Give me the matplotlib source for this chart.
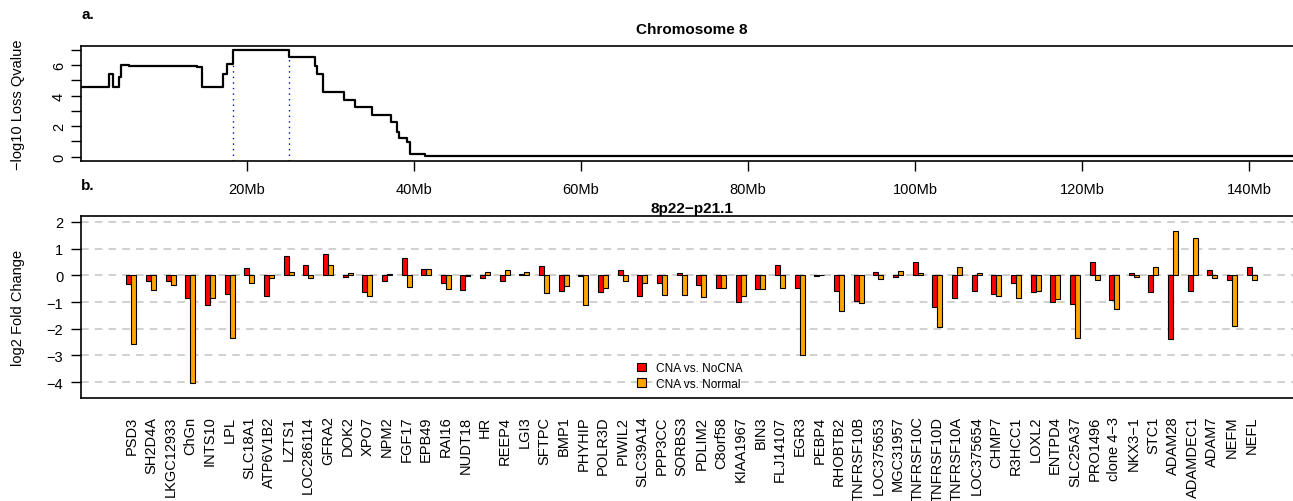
import numpy as np
import matplotlib
matplotlib.use('Agg')
import matplotlib.pyplot as plt
from matplotlib.patches import Patch

plt.rcParams['font.family'] = ['Liberation Sans', 'DejaVu Sans']

# panel a: step curve of -log10 loss q-value along chromosome 8 (Mb)
seg_start = [0.2, 3.56, 3.96, 4.75, 4.99, 5.95, 13.2, 14.0, 14.69, 17.2, 17.68,
             18.4, 25.02, 28.21, 28.45, 29.09, 31.69, 32.96, 35.0, 37.23, 38.03,
             38.27, 39.15, 39.55, 41.34, 146.3]
seg_value = [4.58, 5.41, 4.58, 5.2, 6.02, 5.97, 5.93, 5.88, 4.58, 5.45, 6.11,
             6.97, 6.57, 5.96, 5.41, 4.25, 3.71, 3.27, 2.73, 2.25, 1.6,
             1.2, 0.94, 0.18, 0.03, 0.03]
region_x = [18.4, 25.02]
region_top = [6.11, 6.57]

# panel b: log2 fold change per gene
genes = ['PSD3', 'SH2D4A', 'LKGC12933', 'ChGn', 'INTS10', 'LPL', 'SLC18A1',
         'ATP6V1B2', 'LZTS1', 'LOC286114', 'GFRA2', 'DOK2', 'XPO7', 'NPM2',
         'FGF17', 'EPB49', 'RAI16', 'NUDT18', 'HR', 'REEP4', 'LGI3', 'SFTPC',
         'BMP1', 'PHYHIP', 'POLR3D', 'PIWIL2', 'SLC39A14', 'PPP3CC', 'SORBS3',
         'PDLIM2', 'C8orf58', 'KIAA1967', 'BIN3', 'FLJ14107', 'EGR3', 'PEBP4',
         'RHOBTB2', 'TNFRSF10B', 'LOC375653', 'MGC31957', 'TNFRSF10C',
         'TNFRSF10D', 'TNFRSF10A', 'LOC375654', 'CHMP7', 'R3HCC1', 'LOXL2',
         'ENTPD4', 'SLC25A37', 'PRO1496', 'clone 4\u22123', 'NKX3\u22121', 'STC1',
         'ADAM28', 'ADAMDEC1', 'ADAM7', 'NEFM', 'NEFL']
fc_nocna = [-0.31, -0.21, -0.2, -0.85, -1.1, -0.71, 0.28, -0.76, 0.74, 0.39,
            0.8, -0.06, -0.61, -0.22, 0.64, 0.22, -0.29, -0.55, -0.1, -0.22,
            0.06, 0.36, -0.57, -0.03, -0.61, 0.19, -0.79, -0.3, 0.09, -0.36,
            -0.49, -1.0, -0.5, 0.38, -0.49, -0.03, -0.6, -0.98, 0.14, -0.08,
            0.51, -1.19, -0.86, -0.59, -0.69, -0.3, -0.61, -0.99, -1.09, 0.51,
            -0.94, 0.1, -0.61, -2.37, -0.6, 0.2, -0.19, 0.3]
fc_normal = [-2.59, -0.55, -0.36, -4.03, -0.84, -2.35, -0.29, -0.1, 0.12, -0.09,
             0.4, 0.1, -0.76, 0.06, -0.42, 0.25, -0.5, -0.03, 0.12, 0.21,
             0.12, -0.65, -0.41, -1.12, -0.47, -0.22, -0.27, -0.75, -0.75, -0.8,
             -0.49, -0.78, -0.5, -0.49, -2.98, 0.01, -1.35, -1.05, -0.14, 0.16,
             0.1, -1.95, 0.3, 0.1, -0.79, -0.86, -0.59, -0.9, -2.35, -0.17,
             -1.27, -0.05, 0.32, 1.65, 1.4, -0.09, -1.91, -0.19]

W, H = 1293, 502
fig = plt.figure(figsize=(W / 100, H / 100), dpi=100)


def fx(px):
    return px / W


def fy(py):
    return 1 - py / H


left = fx(81.3)
width = fx(1301.7) - left
ax1 = fig.add_axes([left, fy(162), width, fy(46.7) - fy(162)])
ax2 = fig.add_axes([left, fy(398.5), width, fy(217.3) - fy(398.5)])

fs = 10.5

# ---- panel a
ax1.step(seg_start, seg_value, where='post', color='black', lw=1.6)
for xv, yt in zip(region_x, region_top):
    ax1.plot([xv, xv], [-0.28, yt], color='blue', lw=1, ls=(0, (1, 3)))
ax1.set_xlim(0.2, 146.3)
ax1.set_ylim(-0.28, 7.28)
ax1.set_xticks(range(20, 141, 20))
ax1.set_xticklabels([f'{v}Mb' for v in range(20, 141, 20)], fontsize=fs)
ax1.set_yticks(range(8))
ax1.set_yticklabels(['0', '', '2', '', '4', '', '6', ''], fontsize=fs,
                    rotation=90, va='center')
ax1.tick_params(axis='x', length=7, width=1, pad=8)
ax1.tick_params(axis='y', length=7, width=1, pad=4)
ax1.set_title('Chromosome 8', fontsize=11, fontweight='bold', pad=9)
for sp in ax1.spines.values():
    sp.set_linewidth(1.2)

# ---- panel b
x = np.arange(len(genes))
bw = 0.254
for yv in range(-4, 3):
    ax2.axhline(yv, color='#c4c4c4', lw=1.1, ls=(0, (5, 4)), zorder=0)
ax2.bar(x - bw / 2, fc_nocna, width=bw, color='#ff0000', edgecolor='black',
        linewidth=0.8, zorder=2)
ax2.bar(x + bw / 2, fc_normal, width=bw, color='#ffa500', edgecolor='black',
        linewidth=0.8, zorder=2)
ax2.set_xlim(-2.544, 59.54)
ax2.set_ylim(-4.575, 2.21)
ax2.set_xticks(x)
ax2.set_xticklabels(genes, rotation=90, fontsize=fs, va='top', ha='center')
ax2.tick_params(axis='x', length=0, pad=13)
ax2.set_yticks(range(-4, 3))
ax2.tick_params(axis='y', length=7, width=1, pad=6, labelsize=fs)
ax2.set_title('8p22\u2212p21.1', fontsize=11, fontweight='bold', pad=3)
for sp in ax2.spines.values():
    sp.set_linewidth(1.2)

handles = [Patch(facecolor='#ff0000', edgecolor='black', lw=0.8),
           Patch(facecolor='#ffa500', edgecolor='black', lw=0.8)]
fig.legend(handles, ['CNA vs. NoCNA', 'CNA vs. Normal'], loc='center left',
           bbox_to_anchor=(fx(637), fy(377)), frameon=False, fontsize=8.6,
           handlelength=0.75, handleheight=0.75, handletextpad=0.8,
           labelspacing=0.3, borderpad=0, borderaxespad=0)

fig.text(fx(18), fy(105), '\u2212log10 Loss Qvalue', rotation=90, fontsize=fs,
         ha='center', va='center')
fig.text(fx(18), fy(308), 'log2 Fold Change', rotation=90, fontsize=fs,
         ha='center', va='center')
fig.text(fx(81), fy(15), 'a.', fontsize=11, fontweight='bold', va='center')
fig.text(fx(81), fy(186), 'b.', fontsize=11, fontweight='bold', va='center')

fig.savefig('out.png', dpi=100)
